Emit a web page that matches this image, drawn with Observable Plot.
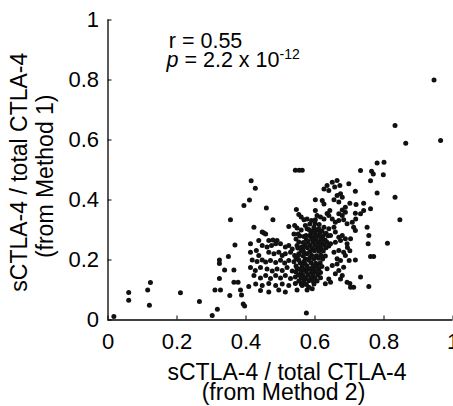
<!DOCTYPE html>
<html><head><meta charset="utf-8">
<script src="https://cdn.jsdelivr.net/npm/d3@7"></script>
<script src="https://cdn.jsdelivr.net/npm/@observablehq/plot@0.6"></script>
<style>
html,body{margin:0;padding:0;background:#fff;}
</style></head><body><div id="chart"></div>
<script>
const xTicks = [0, 0.2, 0.4, 0.6, 0.8, 1];
const yTicks = [0, 0.2, 0.4, 0.6, 0.8, 1];
const xTitle = ["sCTLA-4 / total CTLA-4", "(from Method 2)"];
const yTitle = ["sCTLA-4 / total CTLA-4", "(from Method 1)"];
const statR = "r = 0.55";
const statP = ["p", " = 2.2 x 10", "-12"];

// [Method 2, Method 1]
const sparseLeft = [[0.017,0.012],[0.06,0.092],[0.06,0.066],[0.115,0.1],[0.123,0.125],[0.12,0.049],[0.21,0.091],[0.265,0.062],[0.302,0.015],[0.317,0.036],[0.31,0.1],[0.326,0.1],[0.323,0.2],[0.323,0.188],[0.323,0.138],[0.338,0.167],[0.349,0.212],[0.355,0.334],[0.353,0.082],[0.365,0.167],[0.368,0.25],[0.365,0.126],[0.377,0.126],[0.384,0.1],[0.387,0.083],[0.392,0.053],[0.396,0.047],[0.394,0.382],[0.41,0.4],[0.415,0.464],[0.427,0.439],[0.408,0.112],[0.423,0.309],[0.452,0.29],[0.459,0.373],[0.478,0.334]];

const leftCluster = [[0.546,0.368],[0.553,0.352],[0.56,0.343],[0.568,0.334],
[0.524,0.312],[0.541,0.315],[0.548,0.307],[0.572,0.315],[0.577,0.304],
[0.447,0.293],[0.457,0.287],[0.539,0.287],[0.551,0.287],[0.574,0.282],
[0.437,0.265],[0.466,0.265],[0.478,0.267],[0.49,0.265],
[0.413,0.254],[0.447,0.248],[0.461,0.243],[0.474,0.248],[0.486,0.254],[0.5,0.254],[0.514,0.243],[0.524,0.248],[0.534,0.237],[0.548,0.248],[0.561,0.243],
[0.413,0.226],[0.43,0.232],[0.437,0.215],[0.466,0.226],[0.481,0.221],[0.495,0.226],[0.505,0.215],[0.514,0.221],[0.529,0.226],[0.541,0.215],[0.553,0.221],[0.568,0.226],[0.577,0.221],
[0.418,0.2],[0.432,0.195],[0.447,0.2],[0.457,0.193],[0.471,0.198],[0.486,0.192],[0.5,0.199],[0.512,0.19],[0.524,0.198],[0.539,0.194],[0.553,0.2],[0.568,0.195],[0.582,0.199],
[0.413,0.175],[0.427,0.165],[0.442,0.175],[0.461,0.17],[0.476,0.163],[0.49,0.17],[0.505,0.165],[0.519,0.175],[0.534,0.163],[0.548,0.172],[0.563,0.165],[0.577,0.17],
[0.423,0.148],[0.442,0.14],[0.457,0.148],[0.471,0.138],[0.486,0.148],[0.5,0.14],[0.514,0.148],[0.529,0.138],[0.543,0.143],[0.558,0.148],[0.572,0.138],
[0.428,0.12],[0.447,0.115],[0.466,0.122],[0.486,0.115],[0.505,0.12],[0.524,0.115],[0.543,0.122],[0.563,0.115],
[0.442,0.098],[0.466,0.093],[0.495,0.1],[0.514,0.093],[0.548,0.1],[0.577,0.1]];

const coreCluster = [[0.585,0.32],[0.6,0.322],[0.612,0.318],
[0.56,0.3],[0.582,0.302],[0.594,0.298],[0.607,0.3],[0.62,0.297],
[0.588,0.29],[0.601,0.288],[0.615,0.291],[0.632,0.289],
[0.556,0.28],[0.568,0.278],[0.585,0.281],[0.597,0.277],[0.61,0.28],[0.622,0.278],[0.638,0.281],
[0.545,0.27],[0.575,0.268],[0.59,0.271],[0.603,0.268],[0.617,0.27],[0.629,0.267],
[0.553,0.26],[0.566,0.258],[0.58,0.261],[0.594,0.259],[0.608,0.26],[0.62,0.257],[0.634,0.26],
[0.572,0.25],[0.586,0.248],[0.6,0.251],[0.613,0.249],[0.627,0.25],[0.64,0.247],
[0.55,0.24],[0.565,0.238],[0.578,0.241],[0.592,0.239],[0.605,0.24],[0.618,0.238],[0.632,0.241],
[0.56,0.23],[0.585,0.228],[0.598,0.231],[0.611,0.229],[0.624,0.23],
[0.552,0.215],[0.566,0.213],[0.59,0.216],[0.604,0.214],[0.617,0.216],[0.63,0.213],
[0.545,0.205],[0.572,0.203],[0.584,0.206],[0.597,0.204],[0.61,0.206],[0.622,0.203],
[0.557,0.19],[0.57,0.188],[0.589,0.191],[0.602,0.189],[0.615,0.19],
[0.545,0.18],[0.563,0.178],[0.577,0.181],[0.594,0.179],[0.607,0.18],[0.62,0.178],
[0.553,0.17],[0.568,0.168],[0.585,0.171],[0.598,0.169],[0.611,0.17],
[0.545,0.16],[0.56,0.158],[0.575,0.161],[0.59,0.159],[0.603,0.16],[0.616,0.158],
[0.552,0.15],[0.566,0.148],[0.58,0.151],[0.594,0.149],[0.608,0.15],
[0.56,0.14],[0.574,0.138],[0.588,0.141],[0.6,0.139],
[0.553,0.13],[0.567,0.128],[0.582,0.131],[0.595,0.129],
[0.56,0.12],[0.575,0.118]];

const rightCluster = [[0.732,0.498],[0.764,0.496],[0.769,0.487],[0.78,0.523],[0.78,0.423],[0.717,0.429],[0.65,0.459],[0.664,0.465],[0.672,0.448],[0.657,0.443],[0.698,0.454],[0.626,0.437],[0.64,0.432],[0.635,0.448],[0.664,0.415],[0.674,0.421],[0.679,0.409],[0.601,0.401],[0.621,0.398],[0.626,0.387],[0.655,0.401],[0.669,0.393],[0.701,0.389],[0.719,0.385],[0.741,0.389],[0.761,0.371],[0.688,0.376],[0.679,0.367],[0.643,0.365],[0.635,0.355],[0.64,0.348],[0.601,0.365],[0.606,0.348],[0.669,0.354],[0.679,0.348],[0.688,0.359],[0.717,0.356],[0.732,0.354],[0.741,0.365],[0.577,0.337],[0.59,0.332],[0.601,0.334],[0.616,0.343],[0.626,0.337],[0.65,0.337],[0.659,0.326],[0.669,0.332],[0.683,0.334],[0.693,0.321],[0.708,0.326],[0.712,0.309],[0.717,0.298],[0.751,0.309],[0.756,0.282],[0.754,0.254],[0.761,0.212],[0.77,0.212],[0.717,0.2],[0.732,0.143],[0.712,0.109],[0.703,0.109],[0.756,0.112],[0.693,0.126],[0.674,0.137],[0.679,0.148],[0.659,0.154],[0.669,0.165],[0.683,0.176],[0.64,0.137],[0.645,0.126],[0.63,0.121],[0.616,0.141],[0.606,0.13],[0.597,0.12],[0.582,0.109],[0.592,0.104],[0.635,0.171],[0.65,0.182],[0.664,0.204],[0.674,0.198],[0.664,0.187],[0.655,0.226],[0.669,0.232],[0.683,0.226],[0.688,0.215],[0.645,0.254],[0.659,0.259],[0.674,0.265],[0.688,0.271],[0.703,0.271],[0.693,0.254],[0.63,0.287],[0.645,0.282],[0.659,0.293],[0.669,0.276],[0.679,0.282],[0.626,0.309],[0.64,0.304],[0.655,0.309],[0.611,0.304],[0.597,0.309]];

const sparseUpper = [[0.543,0.499],[0.554,0.499],[0.563,0.499],[0.575,0.023],[0.761,0.464],[0.8,0.526],[0.798,0.484],[0.832,0.648],[0.863,0.589],[0.832,0.409],[0.846,0.334],[0.81,0.256],[0.945,0.8],[0.964,0.598],[0.699,0.198],[0.701,0.231],[0.694,0.242],[0.701,0.122],[0.718,0.337]];

const points = [...sparseLeft, ...leftCluster, ...coreCluster, ...rightCluster, ...sparseUpper]
  .map(([m2, m1]) => ({m2, m1}));

const font = "'Liberation Sans', Arial, Helvetica, sans-serif";
const pText = statP.join("");

const chart = Plot.plot({
  width: 453,
  height: 406,
  marginLeft: 107.5,
  marginRight: 0.5,
  marginTop: 19.5,
  marginBottom: 86.5,
  style: {fontFamily: font, fontSize: "22px", color: "#000", background: "#fff", overflow: "visible"},
  x: {domain: [0, 1]},
  y: {domain: [0, 1]},
  marks: [
    Plot.axisX({ticks: xTicks, tickSize: -4, tickPadding: 17, tickFormat: d => String(d), label: null, fontSize: 22, stroke: "#000"}),
    Plot.axisY({ticks: yTicks, tickSize: -4, tickPadding: 13, tickFormat: d => String(d), label: null, fontSize: 22, stroke: "#000"}),
    Plot.ruleX([0], {stroke: "#000", strokeWidth: 1.3}),
    Plot.ruleY([0], {stroke: "#000", strokeWidth: 1.3}),
    Plot.dot(points, {x: "m2", y: "m1", r: 2.5, fill: "#111", stroke: null}),
    Plot.text([xTitle[0]], {frameAnchor: "bottom", text: d => d, lineAnchor: "bottom", dx: 6.5, dy: 59.8, fontSize: 23, fill: "#000"}),
    Plot.text([xTitle[1]], {frameAnchor: "bottom", text: d => d, lineAnchor: "bottom", dx: 3, dy: 79.5, fontSize: 23, fill: "#000"}),
    Plot.text([yTitle[0]], {frameAnchor: "left", text: d => d, rotate: -90, textAnchor: "middle", lineAnchor: "bottom", dx: -81.5, dy: 2.2, fontSize: 23, fill: "#000"}),
    Plot.text([yTitle[1]], {frameAnchor: "left", text: d => d, rotate: -90, textAnchor: "middle", lineAnchor: "bottom", dx: -54.8, dy: 6.3, fontSize: 23, fill: "#000"}),
    Plot.text([statR], {frameAnchor: "top-left", text: d => d, textAnchor: "start", lineAnchor: "bottom", dx: 60.8, dy: 27.8, fontSize: 21.5, fill: "#000"}),
    Plot.text([pText], {frameAnchor: "top-left", text: d => d, textAnchor: "start", lineAnchor: "bottom", dx: 58.5, dy: 47.2, fontSize: 21.5, fill: "#000"})
  ]
});

// rich-text the p-value line: italic p and superscript exponent
d3.select(chart).selectAll("text").filter(function() { return this.textContent === pText; }).each(function() {
  const t = d3.select(this);
  t.text(null);
  t.append("tspan").attr("font-style", "italic").text(statP[0]);
  t.append("tspan").text(statP[1]);
  t.append("tspan").attr("font-size", 14).attr("dy", -8).text(statP[2]);
});

document.getElementById("chart").appendChild(chart);
</script>
</body></html>
